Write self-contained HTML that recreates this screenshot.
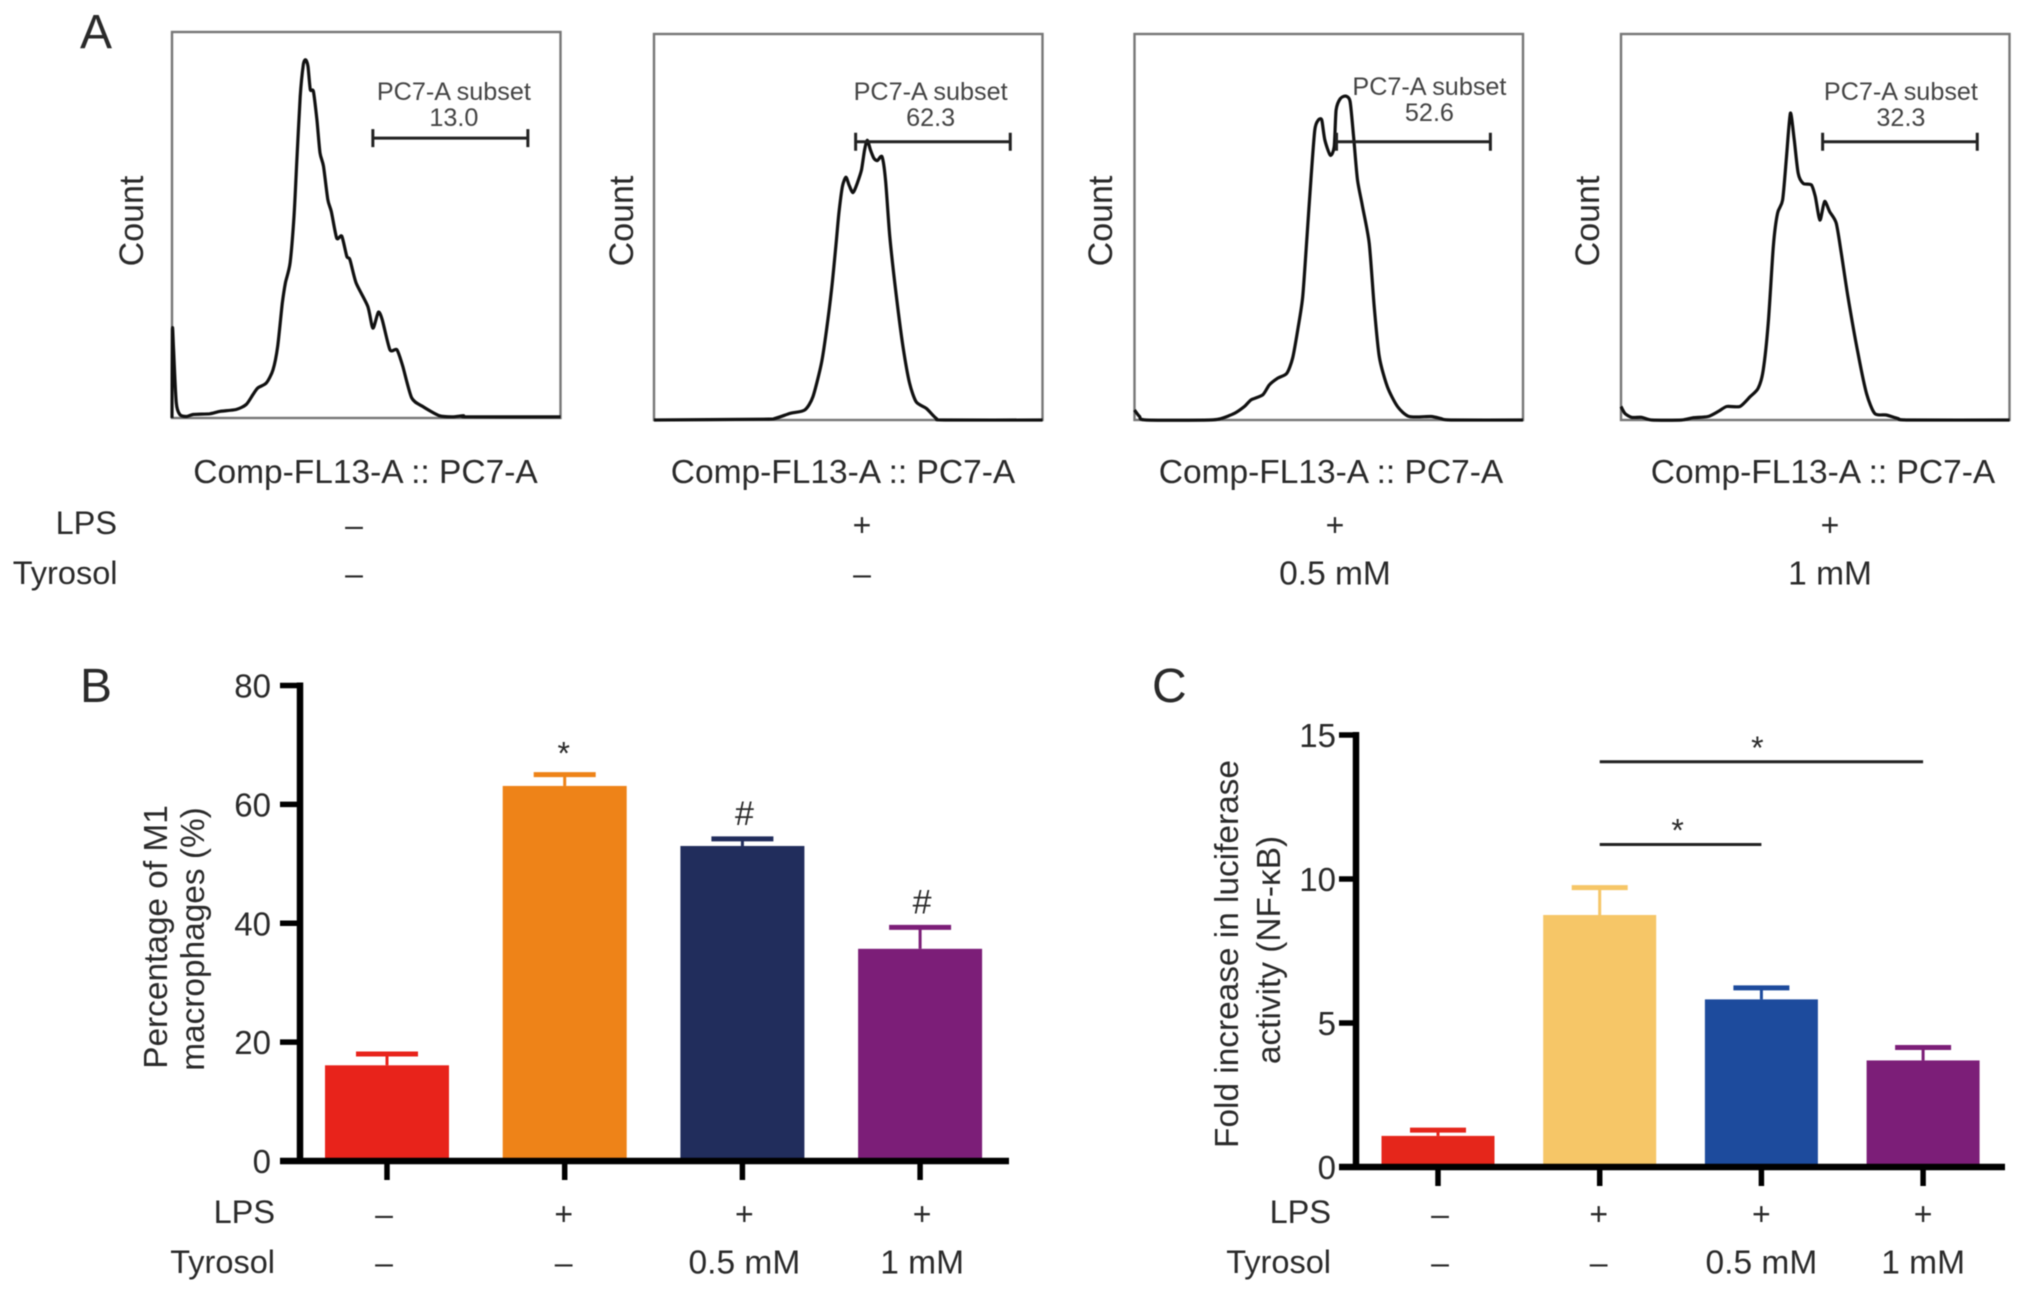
<!DOCTYPE html>
<html lang="en">
<head>
<meta charset="utf-8">
<title>Tyrosol M1 macrophage figure</title>
<style>
html,body{margin:0;padding:0;background:#fff;width:2032px;height:1293px;overflow:hidden}
svg{display:block;filter:blur(0.5px)}
text{font-family:"Liberation Sans",Arial,sans-serif;fill:#2a2a2a}
</style>
</head>
<body>
<svg id="fig" xmlns="http://www.w3.org/2000/svg" width="2032" height="1293" viewBox="0 0 2032 1293">
  <rect width="2032" height="1293" fill="#fff"/>
  <text x="80" y="48" font-size="48">A</text>
  <text x="80" y="702" font-size="48">B</text>
  <text x="1152" y="702" font-size="48">C</text>
  <text transform="translate(167 937) rotate(-90)" text-anchor="middle" font-size="33.4">Percentage of M1</text>
  <text transform="translate(204 939) rotate(-90)" text-anchor="middle" font-size="33.4">macrophages (%)</text>
  <text transform="translate(1238 954) rotate(-90)" text-anchor="middle" font-size="33.4">Fold increase in luciferase</text>
  <text transform="translate(1280 950) rotate(-90)" text-anchor="middle" font-size="33.4">activity (NF-κB)</text>
</svg>
<script>
// ---------- Panel A data (channel %, count %) ----------
const histChannel1 = [0,0.1,0.4,1.1,2,3.7,5.4,9.7,12.3,16.5,19.1,20.8,22.1,24.3,26,27.2,28.4,29.2,30.4,31.4,32.1,33,33.8,34.4,35,35.6,36.4,37.3,38.1,39,40.1,41,42.4,43.7,45,45.8,47.4,50.4,51.7,53.1,54.1,56.1,57.9,59.4,61.7,64.5,68.8,72.2,75,76.1,100];
const histCount1 = [0,22.9,17.7,3.9,0.9,0.4,0.9,1.1,1.7,2.2,3.5,6,7.8,9.1,12.5,18.6,29.8,35,40.2,52.2,66,83.3,91.5,92.8,91.1,85.1,84.6,77.3,68.7,65.2,56.6,53.5,46.6,47.1,41.9,41,35,28.9,23.3,27.4,25.5,17.7,17.7,13.4,5.2,3,0.6,0.3,0.6,0.3,0.3];
const histChannel2 = [0,28.1,31.1,35,38.8,40.9,43.1,44.4,45.7,46.8,47.6,48.5,49.4,50.2,51.2,52.3,53.4,54.2,54.9,55.7,56.6,57.5,58.7,59.6,60.7,62.4,64.1,65.8,67.5,70.1,72.7,74.8,100];
const histCount2 = [0,0.2,0.4,1.7,2.6,6,14.7,23.3,33.7,44.9,53.6,60.5,62.9,60.9,58.9,61.3,64.8,70,72.5,70,67.8,67.2,68.2,62.2,47.5,32,19,9.5,4.7,3,0.4,0,0];
const histChannel3 = [0,1.3,3,19.3,22.3,25.7,28.3,30,33,34.7,36.8,39.2,40.7,42,43.3,44.4,45.4,46.4,47.3,48.2,49,50.4,51.4,51.9,53,54.4,55.5,56.4,57.4,58.7,60.4,61.7,63,65.1,67.7,70.7,76.3,78.8,81.4,100];
const histCount3 = [2.6,0.9,0,0,0.4,1.7,3.5,5.2,6.5,9.1,10.8,12.1,16,23.3,31.9,47.5,62.2,75.1,77.7,77.7,72.5,68.6,70.8,80.3,83.3,83.9,82.5,73.4,62.2,55.3,45.8,29.4,16.4,8.6,3.5,0.9,0.9,0.4,0,0];
const histChannel4 = [0,1,2.7,5.3,7.9,15.6,18.6,22.4,25,27.2,30.6,33.2,35.3,36.6,37.9,39.2,40.3,41.6,42.6,43.6,44.6,45.6,46.9,49,50,51.2,52.4,53.7,55.4,56.7,58.4,61,63.2,65.3,68.3,71.3,73.9,100];
const histCount4 = [3.5,1.7,0.7,0.7,0,0,0.6,0.9,2.2,3.5,3.5,6,8.2,12.9,25,44.9,53.6,57,68.2,79.5,72.5,63.9,61.3,60.9,57.9,51.8,56.6,54,51,43.2,32,17.3,6.9,1.7,1.3,0.4,0,0];
const subsetValues = ['13.0','62.3','52.6','32.3'];
const gateStart = [51.7,51.9,52,51.9];
const gateEnd = [91.6,91.7,91.6,91.7];
const gateLevel = [72.5,72.1,72.1,72.1];

// ---------- Shared condition labels ----------
const lpsLabels = ['–','+','+','+'];
const tyrosolLabels = ['–','–','0.5 mM','1 mM'];

// ---------- Panel B data ----------
const bTicks = [0,20,40,60,80];
const bMeans = [16.1,63.1,53,35.7];
const bErrors = [1.9,1.9,1.2,3.6];
const bColors = ['#e8231b','#ee8318','#212d5c','#7c1e78'];
const bMarks = ['','*','#','#'];

// ---------- Panel C data ----------
const cTicks = [0,5,10,15];
const cMeans = [1.08,8.75,5.82,3.7];
const cErrors = [0.2,0.95,0.4,0.45];
const cColors = ['#e5261b','#f6c667','#1d4b9d','#7c1e78'];
const cBrackets = [[1,2],[1,3]];
const cBracketLevels = [11.2,14.07];

const svg = document.getElementById('fig');
const NS = 'http://www.w3.org/2000/svg';
function make(tag, attrs, parent) {
  const el = document.createElementNS(NS, tag);
  for (const k in attrs) el.setAttribute(k, attrs[k]);
  (parent || svg).appendChild(el);
  return el;
}
function label(str, x, y, size, anchor) {
  const t = make('text', {x: x, y: y, 'font-size': size, 'text-anchor': anchor || 'middle'});
  t.textContent = str;
  return t;
}
function condSize(str) { return str.length > 1 ? 33.5 : 32; }
function smoothPath(pts) {
  let d = 'M' + pts[0][0].toFixed(1) + ' ' + pts[0][1].toFixed(1);
  for (let i = 0; i < pts.length - 1; i++) {
    const p0 = pts[Math.max(i - 1, 0)], p1 = pts[i], p2 = pts[i + 1], p3 = pts[Math.min(i + 2, pts.length - 1)];
    const k = 0.12;
    d += 'C' + (p1[0] + (p2[0] - p0[0]) * k).toFixed(1) + ' ' + (p1[1] + (p2[1] - p0[1]) * k).toFixed(1) + ' ' +
         (p2[0] - (p3[0] - p1[0]) * k).toFixed(1) + ' ' + (p2[1] - (p3[1] - p1[1]) * k).toFixed(1) + ' ' +
         p2[0].toFixed(1) + ' ' + p2[1].toFixed(1);
  }
  return d;
}

// ---------- Panel A ----------
const panelLeft = [172,654,1134.5,1621];
const panelTop = [32,34,34,34];
const panelW = 388.5, panelH = 386;
const axisLabelX = [365.5,843,1331,1823];
const countX = [143,633,1112,1599];
const textShift = [3.5,-2.3,16,1];
const subsetNameY = [100,100,95,100];
const subsetValueY = [126,126,121,126];
const condX = [354,862,1335,1830];
const hists = [[histChannel1,histCount1],[histChannel2,histCount2],[histChannel3,histCount3],[histChannel4,histCount4]];

hists.forEach(function(h, p) {
  const xA = function(v){ return panelLeft[p] + v / 100 * panelW; };
  const yA = function(v){ return panelTop[p] + panelH - v / 100 * panelH; };
  const frame = make('rect', {x: panelLeft[p], y: panelTop[p], width: panelW, height: panelH, fill: 'none', stroke: '#777', 'stroke-width': 2.4});
  
  
  const pts = h[0].map(function(c, i){ return [xA(c), yA(h[1][i])]; });
  const line = make('path', {d: smoothPath(pts), fill: 'none', stroke: '#111', 'stroke-width': 3.2, 'stroke-linejoin': 'round'});
  
  

  const gy = yA(gateLevel[p]), g0 = xA(gateStart[p]), g1 = xA(gateEnd[p]);
  const gate = make('path', {d: 'M' + g0 + ' ' + gy + 'H' + g1 + 'M' + g0 + ' ' + (gy - 9) + 'V' + (gy + 9) + 'M' + g1 + ' ' + (gy - 9) + 'V' + (gy + 9), fill: 'none', stroke: '#222', 'stroke-width': 3});
  
  
  const cx = (g0 + g1) / 2 + textShift[p];
  const gl = label('PC7-A subset', cx, subsetNameY[p], 25.2);
  gl.style.fill = '#444';
  
  
  const gv = label(subsetValues[p], cx, subsetValueY[p], 25.2);
  gv.style.fill = '#444';
  
  

  const xl = label('Comp-FL13-A :: PC7-A', axisLabelX[p], 483, 33.5);
  
  
  const yl = make('text', {transform: 'translate(' + countX[p] + ' 221) rotate(-90)', 'text-anchor': 'middle', 'font-size': 34});
  yl.textContent = 'Count';
  
  

  const c1 = label(lpsLabels[p], condX[p], 536, 32);
  
  
  const c2 = label(tyrosolLabels[p], condX[p], 584.5, condSize(tyrosolLabels[p]));
  
  
});
const aLps = label('LPS', 117, 534, 32.5, 'end');


const aTyr = label('Tyrosol', 117.5, 584, 32.5, 'end');



// ---------- Bar chart drawing ----------
function barChart(o) {
  const y = function(v){ return o.y0 - v / o.max * (o.y0 - o.y1); };
  const x = function(i){ return o.cx0 + i * o.step; };
  o.means.forEach(function(m, i) {
    const top = y(m), errTop = y(m + o.errors[i]), cx = x(i);
    const bar = make('rect', {x: cx - o.barW / 2, y: top, width: o.barW, height: o.y0 - top, fill: o.colors[i]});
    
    
    const stem = make('line', {x1: cx, x2: cx, y1: top, y2: errTop, stroke: o.colors[i], 'stroke-width': 3});
    
    
    const cap = make('line', {x1: cx - o.capW / 2, x2: cx + o.capW / 2, y1: errTop, y2: errTop, stroke: o.colors[i], 'stroke-width': 5});
    
    
    const tick = make('line', {x1: cx, x2: cx, y1: o.y0, y2: o.y0 + 19, stroke: '#000', 'stroke-width': 5.5});
    
    
    const l1 = label(lpsLabels[i], x(i) + o.textShift[i], o.lpsY + 2, 32);
    
    
    const l2 = label(tyrosolLabels[i], x(i) + o.textShift[i], o.tyrY + 0.5, condSize(tyrosolLabels[i]));
    
    
  });
  const yAxis = make('line', {x1: o.axisX, x2: o.axisX, y1: o.y1 - 3, y2: o.y0 + 3, stroke: '#000', 'stroke-width': 6.5});
  
  
  const xAxis = make('line', {x1: o.axisX - o.tickLen, x2: o.xEnd, y1: o.y0, y2: o.y0, stroke: '#000', 'stroke-width': 6.5});
  
  
  o.ticks.forEach(function(t) {
    const tk = make('line', {x1: o.axisX - o.tickLen, x2: o.axisX, y1: y(t), y2: y(t), stroke: '#000', 'stroke-width': 5.5});
    
    
    const tl = label(String(t), o.axisX - o.labelGap, y(t) + 12, 33, 'end');
    
    
  });
  const rowLps = label('LPS', o.rowX, o.lpsY, 32.5, 'end');
  
  
  const rowTyr = label('Tyrosol', o.rowX, o.tyrY, 32.5, 'end');
  
  
  return {x: x, y: y};
}

const chartB = barChart({y0: 1161, y1: 685.5, max: 80, cx0: 387, step: 177.7, barW: 124, capW: 62, axisX: 300, xEnd: 1009, tickLen: 20, labelGap: 29,
  means: bMeans, errors: bErrors, colors: bColors, ticks: bTicks, lpsY: 1223, tyrY: 1273, rowX: 275, textShift: [-3,-1,2,2]});
bMarks.forEach(function(m, i) {
  if (!m) return;
  const t = label(m, chartB.x(i) + (m === '*' ? -1 : 2), chartB.y(bMeans[i] + bErrors[i]) - (m === '*' ? 10 : 14), m === '*' ? 32 : 34);
  
  
});

const chartC = barChart({y0: 1167, y1: 735, max: 15, cx0: 1438, step: 161.7, barW: 113, capW: 56, axisX: 1356, xEnd: 2005, tickLen: 17, labelGap: 20,
  means: cMeans, errors: cErrors, colors: cColors, ticks: cTicks, lpsY: 1223, tyrY: 1273, rowX: 1331, textShift: [2,-1,0,0]});
const cStarShift = [-3,-4];
cBrackets.forEach(function(b, i) {
  const yb = chartC.y(cBracketLevels[i]);
  const ln = make('line', {x1: chartC.x(b[0]), x2: chartC.x(b[1]), y1: yb, y2: yb, stroke: '#222', 'stroke-width': 3});
  
  
  const st = label('*', (chartC.x(b[0]) + chartC.x(b[1])) / 2 + cStarShift[i], yb - 3, 32);
  
  
});
</script>
</body>
</html>
